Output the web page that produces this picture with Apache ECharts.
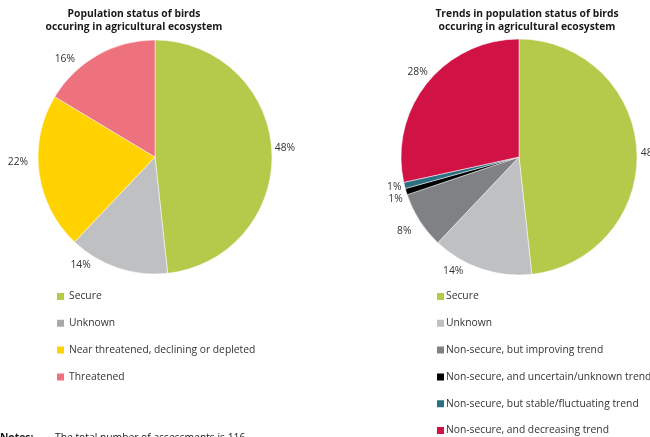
<!DOCTYPE html>
<html>
<head>
<meta charset="utf-8">
<script src="https://cdn.jsdelivr.net/npm/echarts@6/dist/echarts.min.js"></script>
<style>
html,body{margin:0;padding:0;background:#fff;}
#c{width:650px;height:437px;}
</style>
</head>
<body>
<div id="c"></div>
<script>
// Data (counts out of 116 assessments)
const statusNames = ['Secure', 'Unknown', 'Near threatened, declining or depleted', 'Threatened'];
const statusValues = [56, 16, 25, 19];
const statusColors = ['#b5c94b', '#bfc0c2', '#ffd200', '#ee717e'];

const trendNames = ['Secure', 'Unknown', 'Non-secure, but improving trend', 'Non-secure, and uncertain/unknown trend', 'Non-secure, but stable/fluctuating trend', 'Non-secure, and decreasing trend'];
const trendValues = [56, 16, 9, 1, 1, 33];
const trendColors = ['#b5c94b', '#bfc0c2', '#808184', '#000000', '#2c6e82', '#d01245'];

const titleLeft = 'Population status of birds\noccuring in agricultural ecosystem';
const titleRight = 'Trends in population status of birds\noccuring in agricultural ecosystem';

// label nudges (style only), to mimic the original label placement
const statusLabelNudge = [[-8, -2], [-18, -6], [0, -11], [-13, 7]];
const trendLabelNudge = [[-7, 3], [-9, -1], [-2, 9], [0, -1], [3, 1], [11, -9]];

const font = '"Open Sans", "Noto Sans", sans-serif';
const fs = 10.3;

function pieData(names, values, colors, nudges) {
  return names.map((n, i) => ({
    name: n, value: values[i], itemStyle: { color: colors[i] },
    label: { offset: nudges[i] }
  }));
}

const labelCfg = {
  show: true, position: 'outside', overflow: 'none',
  formatter: p => Math.round(p.percent) + '%',
  fontSize: fs, color: '#333', fontFamily: font
};

const chart = echarts.init(document.getElementById('c'), null, { renderer: 'canvas' });
chart.setOption({
  animation: false,
  title: [
    { text: titleLeft, left: 134, top: 8, textAlign: 'center', padding: 0,
      textStyle: { fontSize: fs, fontWeight: 'bold', color: '#1a1a1a', lineHeight: 13, fontFamily: font } },
    { text: titleRight, left: 527, top: 8, textAlign: 'center', padding: 0,
      textStyle: { fontSize: fs, fontWeight: 'bold', color: '#1a1a1a', lineHeight: 13, fontFamily: font } }
  ],
  legend: [
    { orient: 'vertical', left: 55, top: 290, padding: 0, itemWidth: 9, itemHeight: 9, itemGap: 13.8,
      icon: 'rect', selectedMode: false,
      data: statusNames.map((n, i) => ({ name: n, itemStyle: { color: i === 1 ? '#a9a9a9' : statusColors[i] } })),
      textStyle: { fontSize: fs, color: '#333', lineHeight: 13, fontFamily: font, padding: [0, 0, 0, -1] } },
    { orient: 'vertical', left: 435, top: 290, padding: 0, itemWidth: 9, itemHeight: 9, itemGap: 13.8,
      icon: 'rect', selectedMode: false,
      data: trendNames.map((n, i) => ({ name: n, itemStyle: { color: trendColors[i] } })),
      textStyle: { fontSize: fs, color: '#333', lineHeight: 13, fontFamily: font, padding: [0, 0, 0, -4] } }
  ],
  series: [
    { type: 'pie', center: [155, 157], radius: 117, startAngle: 90, clockwise: true,
      data: pieData(statusNames, statusValues, statusColors, statusLabelNudge),
      label: labelCfg,
      labelLine: { show: false, length: 3, length2: 3 },
      itemStyle: { borderColor: '#fff', borderWidth: 0.5 },
      emphasis: { disabled: true } },
    { type: 'pie', center: [519, 157], radius: 118, startAngle: 90, clockwise: true,
      data: pieData(trendNames, trendValues, trendColors, trendLabelNudge),
      label: labelCfg,
      labelLine: { show: false, length: 3, length2: 3 },
      itemStyle: { borderColor: '#fff', borderWidth: 0.5 },
      emphasis: { disabled: true } }
  ],
  graphic: [
    { type: 'text', left: 0, top: 433, style: { text: 'Notes:', font: 'bold ' + fs + 'px ' + font, fill: '#1a1a1a' } },
    { type: 'text', left: 55, top: 433, style: { text: 'The total number of assessments is 116.', font: fs + 'px ' + font, fill: '#1a1a1a' } }
  ]
});
</script>
</body>
</html>
